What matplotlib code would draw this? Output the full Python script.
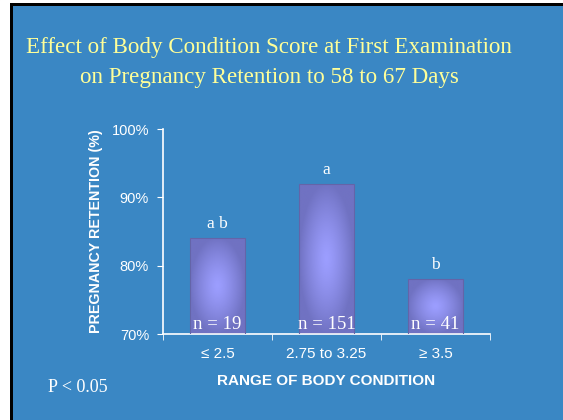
import numpy as np
import matplotlib
matplotlib.use('Agg')
import matplotlib.pyplot as plt
from matplotlib.patches import Rectangle

categories = ['≤ 2.5', '2.75 to 3.25', '≥ 3.5']
retention = [84.1, 92.0, 78.1]
letters = ['a b', 'a', 'b']
counts = ['n = 19', 'n = 151', 'n = 41']
yticks = [70, 80, 90, 100]

bg = '#3a87c4'
fig = plt.figure(figsize=(5.63, 4.2), dpi=100)
fig.patch.set_facecolor(bg)
fig.patch.set_linewidth(0)

# slide frame: white strip on the left, black line on top/left
fig.patches.append(Rectangle((0, 0), 10/563, 1, transform=fig.transFigure, color='white', zorder=0))
fig.patches.append(Rectangle((0, 1 - 3/420), 1, 3/420, transform=fig.transFigure, color='white', zorder=0))
fig.patches.append(Rectangle((10/563, 0), 2.5/563, 1 - 3/420, transform=fig.transFigure, color='black', lw=0, zorder=1))
fig.patches.append(Rectangle((10/563, 1 - 6/420), 1 - 10/563, 3/420, transform=fig.transFigure, color='black', lw=0, zorder=1))

ax = fig.add_axes([163/563, 1 - 334/420, (490 - 163)/563, (334 - 129)/420])
ax.set_facecolor(bg)

x = np.arange(len(categories))
bars = ax.bar(x, [r - 70 for r in retention], bottom=70, width=0.5,
              color='#7474c8', edgecolor='#6464a8', linewidth=0.8, zorder=2)

# radial gradient inside each bar
gy, gx = np.mgrid[0:1:200j, 0:1:100j]
d = np.clip(np.sqrt(((gx - 0.5) / 0.5) ** 2 + ((gy - 0.5) / 0.5) ** 2), 0, 1)
c0 = np.array([0x9c, 0x9e, 0xff]) / 255
c1 = np.array([0x70, 0x72, 0xc2]) / 255
img = c0[None, None, :] * (1 - d[..., None] ** 1.3) + c1[None, None, :] * d[..., None] ** 1.3
for b in bars:
    x0, y0 = b.get_x(), b.get_y()
    im = ax.imshow(img, extent=[x0, x0 + b.get_width(), y0, y0 + b.get_height()],
                   aspect='auto', zorder=2.5, interpolation='bilinear')
    im.set_clip_path(b)
    b.set_facecolor('none')
    b.set_zorder(3)

for i, r in enumerate(retention):
    ax.text(i, r + 0.9, letters[i], ha='center', va='bottom', color='white',
            family='Liberation Serif', fontsize=12.5)
    ax.text(i, 70.2, counts[i], ha='center', va='bottom', color='white',
            family='Liberation Serif', fontsize=13.5, zorder=4)

ax.set_xlim(-0.5, 2.5)
ax.set_ylim(70, 100)
ax.set_yticks(yticks)
ax.set_yticklabels([f'{t}%' for t in yticks])
ax.set_xticks(x)
ax.set_xticklabels(categories)
ax.set_xticks([-0.5, 0.5, 1.5, 2.5], minor=True)
ax.tick_params(axis='x', which='major', length=0, pad=9)
ax.tick_params(axis='x', which='minor', length=4, color='white', direction='out')
ax.tick_params(axis='y', length=4, color='white', direction='out', pad=6)
for lab in ax.get_xticklabels():
    lab.set_family('Liberation Sans')
    lab.set_fontsize(11)
    lab.set_color('white')
for lab in ax.get_yticklabels():
    lab.set_family('Liberation Sans')
    lab.set_fontsize(10.5)
    lab.set_color('white')

for s in ['top', 'right']:
    ax.spines[s].set_visible(False)
for s in ['left', 'bottom']:
    ax.spines[s].set_color('white')
    ax.spines[s].set_linewidth(1.2)

ax.set_ylabel('PREGNANCY RETENTION (%)', family='Liberation Sans', fontweight='bold',
              fontsize=10.3, color='white', labelpad=6)
ax.set_xlabel('RANGE OF BODY CONDITION', family='Liberation Sans', fontweight='bold',
              fontsize=11, color='white', labelpad=10)

fig.text(269/563, 1 - 47/420, 'Effect of Body Condition Score at First Examination',
         ha='center', va='center', color='#ffff99', family='Liberation Serif', fontsize=16.6)
fig.text(269/563, 1 - 77/420, 'on Pregnancy Retention to 58 to 67 Days',
         ha='center', va='center', color='#ffff99', family='Liberation Serif', fontsize=16.6)
fig.text(78/563, 1 - 387/420, 'P < 0.05', ha='center', va='center', color='white',
         family='Liberation Serif', fontsize=13)

fig.savefig('out.png', dpi=100, facecolor=fig.get_facecolor())
